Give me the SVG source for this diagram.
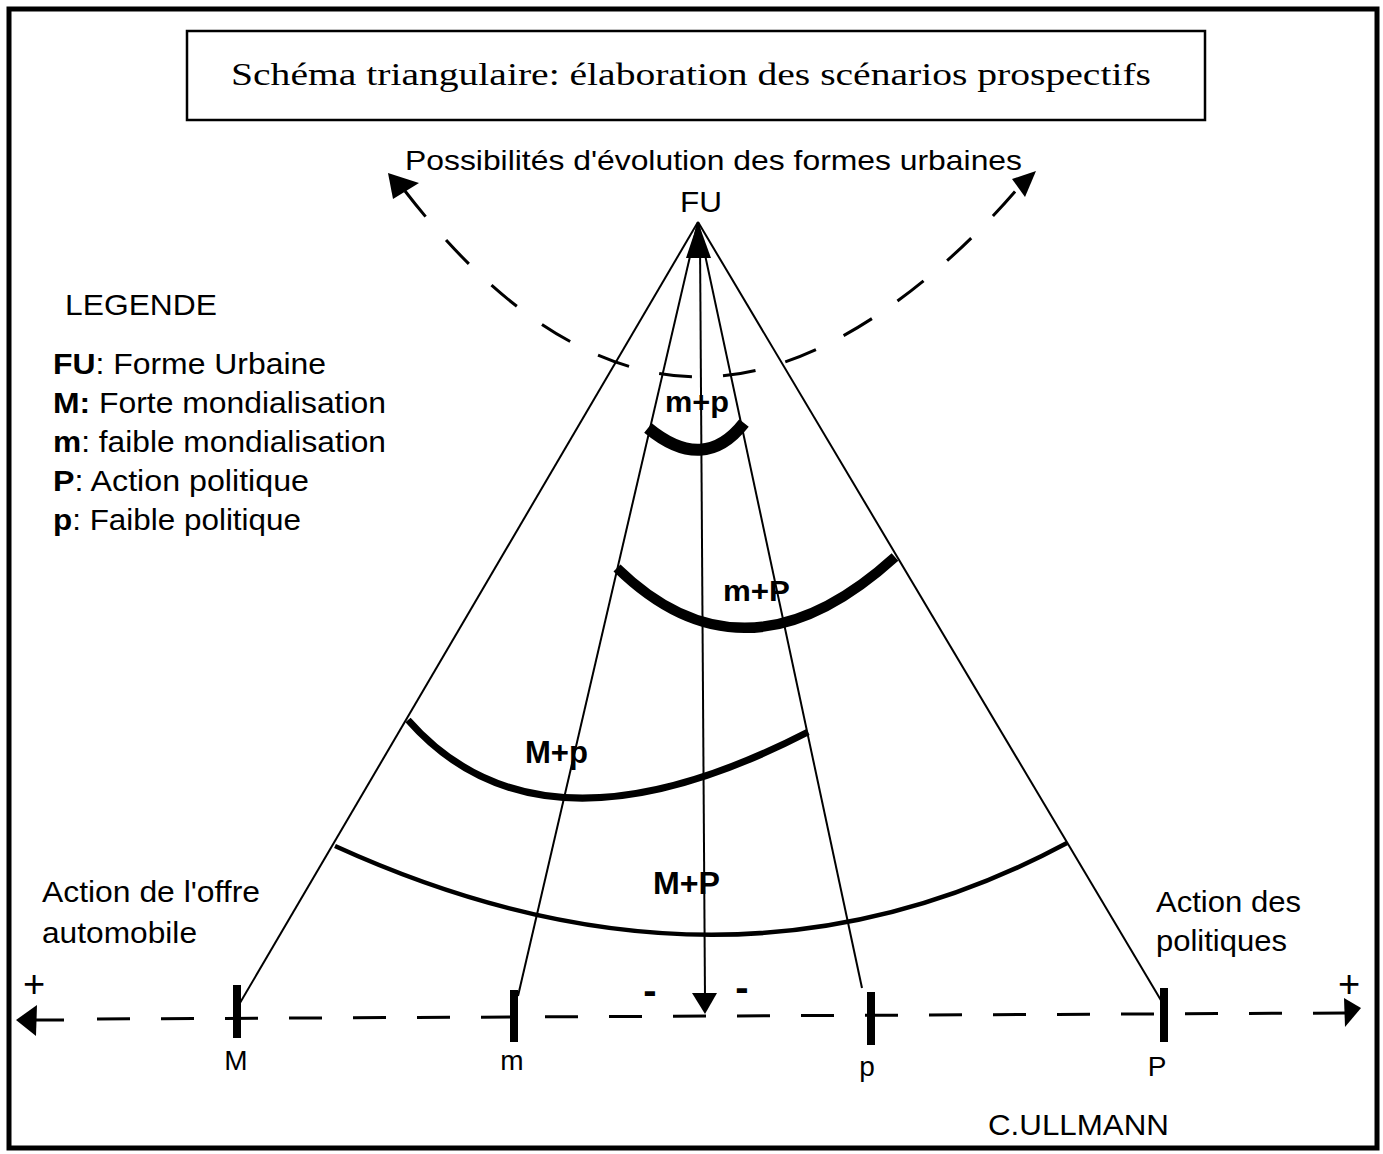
<svg xmlns="http://www.w3.org/2000/svg" width="1383" height="1154" viewBox="0 0 1383 1154">
<style>
.s{font-family:"Liberation Sans",Arial,sans-serif;fill:#000}
.t{font-size:30px}
.b{font-weight:bold}
.ln{stroke:#000;stroke-width:2;fill:none}
.arc{stroke:#000;fill:none;stroke-linecap:butt}
.dash{stroke:#000;stroke-width:3;fill:none;stroke-dasharray:33 31}
.tick{fill:#000}
</style>
<rect x="0" y="0" width="1383" height="1154" fill="#fff"/>
<rect id="frame" x="9" y="9" width="1368" height="1139" fill="none" stroke="#000" stroke-width="5"/>

<g id="title">
<rect x="187" y="31" width="1018" height="89" fill="none" stroke="#000" stroke-width="2.5"/>
<text x="231" y="85" font-family="'Liberation Serif','Times New Roman',serif" font-size="31" textLength="920" lengthAdjust="spacingAndGlyphs">Schéma triangulaire: élaboration des scénarios prospectifs</text>
</g>

<g id="evolution">
<text class="s" font-size="28" x="405" y="170" textLength="617" lengthAdjust="spacingAndGlyphs">Possibilités d'évolution des formes urbaines</text>
<path class="dash" d="M 405 191 C 466 270 570 377 700 377 C 830 377 953 264 1018 188" stroke-dasharray="33 33" stroke-width="2.5"/>
<polygon points="388,173 419,183 393,199" fill="#000"/>
<polygon points="1036,171 1012,179 1025,197" fill="#000"/>
</g>

<g id="node-FU">
<text class="s" font-size="30" x="701" y="212" text-anchor="middle" textLength="42" lengthAdjust="spacingAndGlyphs">FU</text>
</g>

<g id="legend">
<text class="s t" x="65" y="315" textLength="152" lengthAdjust="spacingAndGlyphs">LEGENDE</text>
<text class="s t" x="53" y="374" textLength="273" lengthAdjust="spacingAndGlyphs"><tspan class="b">FU</tspan>: Forme Urbaine</text>
<text class="s t" x="53" y="413" textLength="333" lengthAdjust="spacingAndGlyphs"><tspan class="b">M:</tspan> Forte mondialisation</text>
<text class="s t" x="53" y="452" textLength="333" lengthAdjust="spacingAndGlyphs"><tspan class="b">m</tspan>: faible mondialisation</text>
<text class="s t" x="53" y="491" textLength="256" lengthAdjust="spacingAndGlyphs"><tspan class="b">P</tspan>: Action politique</text>
<text class="s t" x="53" y="530" textLength="248" lengthAdjust="spacingAndGlyphs"><tspan class="b">p</tspan>: Faible politique</text>
</g>

<g id="connectors">
<line class="ln" x1="698" y1="222" x2="237" y2="1008"/>
<line class="ln" x1="698" y1="222" x2="518" y2="996"/>
<line class="ln" x1="698" y1="222" x2="862" y2="988"/>
<line class="ln" x1="698" y1="222" x2="1162" y2="1002"/>
<line class="ln" x1="700" y1="240" x2="705" y2="998"/>
<polygon points="698,222 686,258 711,258" fill="#000"/>
<polygon points="692,993 717,993 705,1014" fill="#000"/>
<line x1="30" y1="1020" x2="64" y2="1020" stroke="#000" stroke-width="3"/>
<line class="dash" x1="97" y1="1019" x2="1345" y2="1013"/>
<polygon points="16,1020 37,1005 36,1036" fill="#000"/>
<polygon points="1361,1008 1344,998 1345,1027" fill="#000"/>
</g>

<g id="scenario-mp">
<path class="arc" stroke-width="12" d="M 648 428 Q 704 474 744 423"/>
<text class="s b" font-size="30" x="665" y="412" textLength="64" lengthAdjust="spacingAndGlyphs">m+p</text>
</g>
<g id="scenario-mP">
<path class="arc" stroke-width="10" d="M 617 568 Q 745 693 895 557"/>
<text class="s b" font-size="30" x="723" y="601" textLength="67" lengthAdjust="spacingAndGlyphs">m+P</text>
</g>
<g id="scenario-Mp">
<path class="arc" stroke-width="7" d="M 408 720 Q 540 870 808 732"/>
<text class="s b" font-size="31" x="525" y="763" textLength="63" lengthAdjust="spacingAndGlyphs">M+p</text>
</g>
<g id="scenario-MP">
<path class="arc" stroke-width="4.5" d="M 335 846 Q 728 1025 1067 843"/>
<text class="s b" font-size="32" x="653" y="894" textLength="67" lengthAdjust="spacingAndGlyphs">M+P</text>
</g>

<g id="node-M">
<rect class="tick" x="233" y="985" width="8" height="53"/>
<text class="s" font-size="28" x="236" y="1070" text-anchor="middle">M</text>
</g>
<g id="node-m">
<rect class="tick" x="510" y="990" width="8" height="52"/>
<text class="s" font-size="28" x="512" y="1070" text-anchor="middle">m</text>
</g>
<g id="node-p">
<rect class="tick" x="867" y="992" width="8" height="53"/>
<text class="s" font-size="28" x="867" y="1076" text-anchor="middle">p</text>
</g>
<g id="node-P">
<rect class="tick" x="1160" y="988" width="8" height="54"/>
<text class="s" font-size="28" x="1157" y="1076" text-anchor="middle">P</text>
</g>

<g id="axis-labels">
<text class="s" font-size="38" x="34" y="997" text-anchor="middle">+</text>
<text class="s" font-size="38" x="1349" y="997" text-anchor="middle">+</text>
<text class="s b" font-size="40" x="650" y="1004" text-anchor="middle">-</text>
<text class="s b" font-size="40" x="742" y="1001" text-anchor="middle">-</text>
<text class="s t" x="42" y="902" textLength="218" lengthAdjust="spacingAndGlyphs">Action de l'offre</text>
<text class="s t" x="42" y="943" textLength="155" lengthAdjust="spacingAndGlyphs">automobile</text>
<text class="s t" x="1156" y="912" textLength="145" lengthAdjust="spacingAndGlyphs">Action des</text>
<text class="s t" x="1156" y="951" textLength="131" lengthAdjust="spacingAndGlyphs">politiques</text>
<text class="s t" x="988" y="1135" textLength="181" lengthAdjust="spacingAndGlyphs">C.ULLMANN</text>
</g>
</svg>
